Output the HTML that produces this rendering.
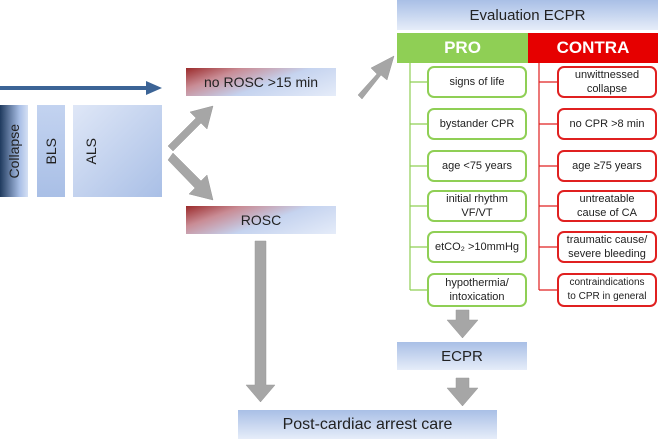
<!DOCTYPE html><html><head><style>
body{margin:0;width:658px;height:439px;background:#fff;position:relative;overflow:hidden;font-family:"Liberation Sans",sans-serif;color:#222}
.a{position:absolute;box-sizing:border-box;display:flex;align-items:center;justify-content:center;text-align:center}
.bl{background:linear-gradient(to bottom,#a9bfe6,#e6edf9)}
.rd{background:linear-gradient(160deg,#9b2a2a 0%,#c98c95 25%,#c5d3ef 55%,#e5ecf9 100%)}
.g{border:2px solid #8fcf55;border-radius:7px;background:#fff;font-size:11px;line-height:14px;left:427px;width:100px;height:32px}
.r{border:2px solid #e02020;border-radius:7px;background:#fff;font-size:11px;line-height:14px;left:557px;width:100px;height:32px}
.v{writing-mode:vertical-rl;transform:rotate(180deg);font-size:14px}
</style></head><body>
<svg width="658" height="439" style="position:absolute;left:0;top:0">
<line x1="0" y1="88" x2="148" y2="88" stroke="#3c6496" stroke-width="4"/>
<polygon points="146,81 162,88 146,95" fill="#3c6496"/>
<g fill="#a6a6a6" stroke="#999" stroke-width="0.5">
<polygon points="168,146 196,118 190,112 213,106 207,129 201,123 173,151"/>
<polygon points="173,153 201,181 207,175 213,200 189,194 195,188 168,160"/>
<polygon points="358,95 377,74 371,68 394,56 387,80 381,75 362,99"/>
<polygon points="255,241 266,241 266,385 275,385 260.5,402 246,385 255,385"/>
<polygon points="456,310 469,310 469,320 478,320 462.5,338 447,320 456,320"/>
<polygon points="456,378 469,378 469,388 478,388 462.5,406 447,388 456,388"/>
</g>
<g stroke="#8fcf55" stroke-width="1.2"><line x1="410" y1="63" x2="410" y2="290"/>
<line x1="410" y1="82" x2="427" y2="82"/><line x1="410" y1="124" x2="427" y2="124"/><line x1="410" y1="166" x2="427" y2="166"/><line x1="410" y1="206" x2="427" y2="206"/><line x1="410" y1="247" x2="427" y2="247"/><line x1="410" y1="290" x2="427" y2="290"/></g>
<g stroke="#e02020" stroke-width="1.2"><line x1="539" y1="63" x2="539" y2="290"/>
<line x1="539" y1="82" x2="557" y2="82"/><line x1="539" y1="124" x2="557" y2="124"/><line x1="539" y1="166" x2="557" y2="166"/><line x1="539" y1="206" x2="557" y2="206"/><line x1="539" y1="247" x2="557" y2="247"/><line x1="539" y1="290" x2="557" y2="290"/></g>
</svg>
<div class="a" style="left:0;top:105px;width:28px;height:92px;background:linear-gradient(to right,#1f3a5e,#a9bfe6 70%,#d5e0f4)"><span class="v">Collapse</span></div>
<div class="a" style="left:37px;top:105px;width:28px;height:92px;background:linear-gradient(#c3d3f0,#a9bfe6)"><span class="v">BLS</span></div>
<div class="a" style="left:73px;top:105px;width:89px;height:92px;background:linear-gradient(135deg,#dfe7f7,#a9bfe6);justify-content:flex-start;padding-left:10px"><span class="v">ALS</span></div>
<div class="a rd" style="left:186px;top:68px;width:150px;height:28px;font-size:14px">no ROSC &gt;15 min</div>
<div class="a rd" style="left:186px;top:206px;width:150px;height:28px;font-size:14px">ROSC</div>
<div class="a bl" style="left:397px;top:0;width:261px;height:30px;font-size:15px">Evaluation ECPR</div>
<div class="a" style="left:397px;top:33px;width:131px;height:30px;background:#8fcf55;color:#fff;font-weight:bold;font-size:17px">PRO</div>
<div class="a" style="left:528px;top:33px;width:130px;height:30px;background:#e60000;color:#fff;font-weight:bold;font-size:17px">CONTRA</div>
<div class="a g" style="top:66px">signs of life</div>
<div class="a g" style="top:108px">bystander CPR</div>
<div class="a g" style="top:150px">age &lt;75 years</div>
<div class="a g" style="top:190px">initial rhythm<br>VF/VT</div>
<div class="a g" style="top:231px">etCO₂ &gt;10mmHg</div>
<div class="a g" style="top:273px;height:34px">hypothermia/<br>intoxication</div>
<div class="a r" style="top:66px">unwittnessed<br>collapse</div>
<div class="a r" style="top:108px">no CPR &gt;8 min</div>
<div class="a r" style="top:150px">age ≥75 years</div>
<div class="a r" style="top:190px">untreatable<br>cause of CA</div>
<div class="a r" style="top:231px">traumatic cause/<br>severe bleeding</div>
<div class="a r" style="top:273px;height:34px;font-size:10px">contraindications<br>to CPR in general</div>
<div class="a bl" style="left:397px;top:342px;width:130px;height:28px;font-size:15px">ECPR</div>
<div class="a bl" style="left:238px;top:410px;width:259px;height:29px;font-size:16px">Post-cardiac arrest care</div>
</body></html>
